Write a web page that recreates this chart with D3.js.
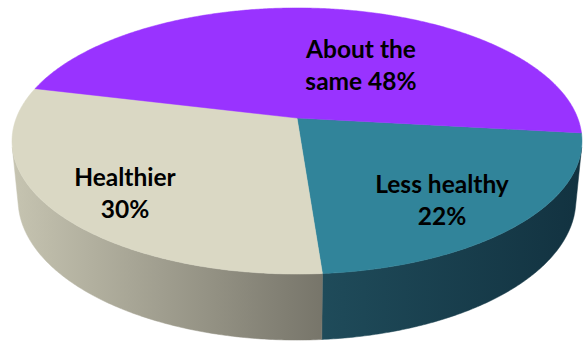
<!DOCTYPE html>
<html><head><meta charset="utf-8">
<script src="https://cdn.jsdelivr.net/npm/d3@7"></script>
<style>html,body{margin:0;padding:0;background:#fff;}svg{display:block;}</style>
</head><body>
<svg id="chart" width="583" height="343"></svg>
<script>
// ---- data ----
const categories = ["Less healthy", "Healthier", "About the same"];
const values = [22, 30, 48];
const labelLines = [["Less healthy", "22%"], ["Healthier", "30%"], ["About the", "same 48%"]];

// ---- styles / layout ----
const topColors = ["#31849A", "#DAD8C4", "#9933FF"];
const sideStops = [["#1F4B5A", "#123240"], ["#C6C4B1", "#77756A"], ["#7A2ACC", "#5E1FA0"]];
const labelPos = [[442, 193], [125, 186], [361, 58]];
const lineGap = 32;

const W = 583, H = 343;
const cx = 297, cy = 118, S = 280.7;
const sinA = 0.4598, cosA = Math.sqrt(1 - sinA * sinA);
const D = 5.137, depthH = 0.238;

function proj(theta, r, z) {
  const x = r * Math.cos(theta), y = r * Math.sin(theta);
  const w = (D - y * cosA - z * sinA) / D;
  return [cx + S * x / w, cy + S * (y * sinA - z * cosA) / w];
}

const svg = d3.select("#chart");
const defs = svg.append("defs");

const startDeg = 96.5;
const pie = d3.pie().sort(null).value(d => d)
  .startAngle(startDeg * Math.PI / 180)
  .endAngle(startDeg * Math.PI / 180 + 2 * Math.PI);
const arcs = pie(values);

const line = d3.line();
const toTheta = a => a - Math.PI / 2;
const step = Math.PI / 360;

// visible wall range (outward normal facing camera)
const sMin = 1 / (D * cosA);
const visA = Math.asin(sMin), visB = Math.PI - Math.asin(sMin);

// gradients for walls
arcs.forEach((a, i) => {
  const g = defs.append("linearGradient").attr("id", "side" + i)
    .attr("gradientUnits", "userSpaceOnUse");
  const t1 = toTheta(a.startAngle), t2 = toTheta(a.endAngle);
  const lo = Math.max(t1, visA), hi = Math.min(t2, visB);
  const xa = proj(lo, 1, 0)[0], xb = proj(hi, 1, 0)[0];
  g.attr("x1", Math.min(xa, xb)).attr("x2", Math.max(xa, xb)).attr("y1", 0).attr("y2", 0);
  g.append("stop").attr("offset", 0).attr("stop-color", sideStops[i][0]);
  g.append("stop").attr("offset", 1).attr("stop-color", sideStops[i][1]);
});

// walls
const wallG = svg.append("g");
arcs.forEach((a, i) => {
  for (const off of [0, 2 * Math.PI]) {
    const t1 = toTheta(a.startAngle) - off, t2 = toTheta(a.endAngle) - off;
    const lo = Math.max(t1, visA), hi = Math.min(t2, visB);
    if (hi <= lo) continue;
    const ts = d3.range(lo, hi, step).concat([hi]);
    const pts = ts.map(t => proj(t, 1, 0))
      .concat(ts.slice().reverse().map(t => proj(t, 1, -depthH)));
    wallG.append("path").attr("d", line(pts) + "Z")
      .attr("fill", "url(#side" + i + ")")
      .attr("stroke", "url(#side" + i + ")").attr("stroke-width", 0.5);
  }
});

// top faces
const topG = svg.append("g");
arcs.forEach((a, i) => {
  const t1 = toTheta(a.startAngle), t2 = toTheta(a.endAngle);
  const ts = d3.range(t1, t2, step).concat([t2]);
  const pts = [[cx, cy]].concat(ts.map(t => proj(t, 1, 0)));
  topG.append("path").attr("d", line(pts) + "Z")
    .attr("fill", topColors[i])
    .attr("stroke", topColors[i]).attr("stroke-width", 0.5);
});

// labels
const lblG = svg.append("g")
  .attr("font-family", "Lato, 'Open Sans', sans-serif")
  .attr("font-weight", 700).attr("font-size", 24.5).attr("fill", "#000")
  .attr("text-anchor", "middle");
labelLines.forEach((lines, i) => {
  const t = lblG.append("text").attr("x", labelPos[i][0]).attr("y", labelPos[i][1]);
  lines.forEach((ln, j) => {
    t.append("tspan").attr("x", labelPos[i][0]).attr("dy", j === 0 ? 0 : lineGap).text(ln);
  });
});
</script>
</body></html>
